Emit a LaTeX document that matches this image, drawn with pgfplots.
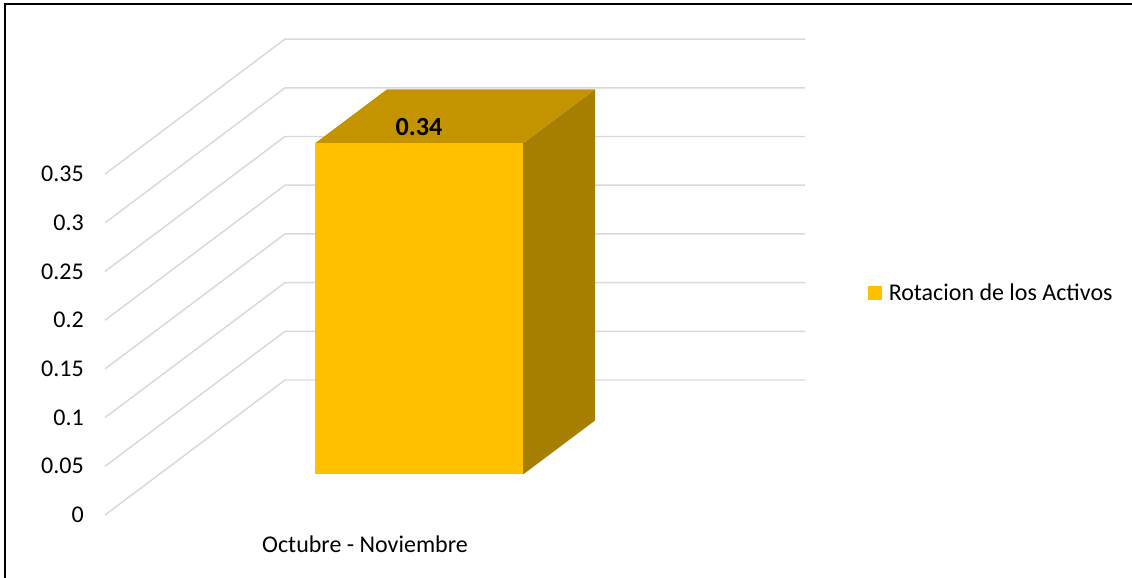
\documentclass[border=0pt]{standalone}
\usepackage{fontspec}
\setmainfont{Carlito}
\usepackage{pgfplots}
\pgfplotsset{compat=1.18}
\definecolor{barfront}{HTML}{FFC000}
\definecolor{bartop}{HTML}{C39300}
\definecolor{barside}{HTML}{A77F00}
\definecolor{gridc}{HTML}{D9D9D9}
\begin{document}
\begin{tikzpicture}
\begin{axis}[
  x={(390pt,0pt)}, y={(135pt,101.25pt)}, z={(0pt,730.5pt)},
  xmin=0, xmax=1, ymin=0, ymax=1, zmin=0, zmax=0.35,
  hide axis, clip=false,
  font=\fontsize{18}{21}\selectfont,
  legend style={at={(axis cs:1.467,0,0.228)}, anchor=west, draw=none, fill=none,
    inner sep=0pt, font=\fontsize{18}{21}\selectfont},
  legend cell align=left,
  legend image code/.code={\fill[barfront] (0pt,-5.25pt) rectangle (10.5pt,5.25pt);
    \path (10.5pt,0pt) -- (13.5pt,0pt);},
]
% gridlines (left wall and back wall)
\pgfplotsinvokeforeach{0,0.05,0.1,0.15,0.2,0.25,0.3,0.35}{
  \addplot3[gridc, line width=1.1pt, forget plot] coordinates {(0,0,#1) (0,1,#1) (1,1,#1)};
  \node[anchor=east, inner sep=0pt] at (axis cs:0,0,#1) [xshift=-15.75pt] {#1};
}
% bar: side, top, front
\addplot3[fill=barside, draw=none, forget plot] coordinates {(0.7,0.3,0) (0.7,0.7,0) (0.7,0.7,0.34) (0.7,0.3,0.34)};
\addplot3[fill=bartop, draw=none, forget plot] coordinates {(0.3,0.3,0.34) (0.7,0.3,0.34) (0.7,0.7,0.34) (0.3,0.7,0.34)};
\addplot3[fill=barfront, draw=none] coordinates {(0.3,0.3,0) (0.7,0.3,0) (0.7,0.3,0.34) (0.3,0.3,0.34)};
\addlegendentry{Rotacion de los Activos}
\node[anchor=base, inner sep=0pt, font=\fontsize{19.6}{22}\selectfont\bfseries] at (axis cs:0.5,0.3,0.34) [yshift=6pt] {0.34};
\node[anchor=base, inner sep=0pt] at (axis cs:0.5,0,0) [yshift=-28.5pt] {Octubre - Noviembre};
\coordinate (O) at (axis cs:0,0,0);
\end{axis}
\draw[line width=1.9pt] (O) ++(-75pt,-48pt) -- ++(0pt,431.25pt) -- ++(850pt,0pt);
\pgfresetboundingbox
\path (O) ++(-78.75pt,-47.25pt) rectangle ++(849pt,433.5pt);
\end{tikzpicture}
\end{document}
